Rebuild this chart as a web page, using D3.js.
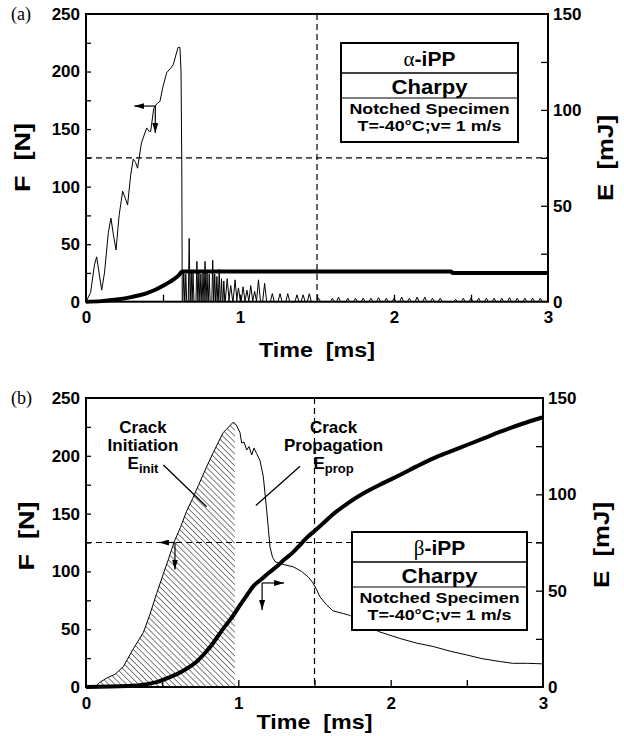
<!DOCTYPE html>
<html><head><meta charset="utf-8">
<script src="https://cdn.jsdelivr.net/npm/d3@7"></script>
<style>body{margin:0;background:#fff}</style>
</head><body>
<svg id="c" width="624" height="736" xmlns="http://www.w3.org/2000/svg"></svg>
<script>
// ---------- data ----------
const timeTicks = [0, 1, 2, 3];
const forceTicks = [0, 50, 100, 150, 200, 250];
const energyTicks = [0, 50, 100, 150];
const timeTickMarks = [0.5, 1, 1.5, 2, 2.5];
const forceTickMarks = [25, 50, 75, 100, 125, 150, 175, 200, 225];
const energyTickMarks = [25, 50, 75, 100, 125];
const refForce = 125;   // dashed horizontal
const refTime = 1.5;    // dashed vertical

// (a) alpha-iPP: force before fracture [t ms, F N]
const forceA_rise = [
  [0,0],[0.03,8],[0.055,32],[0.069,39],[0.085,25],[0.102,10],[0.12,25],[0.145,60],
  [0.162,72.6],[0.178,58],[0.195,45],[0.215,75],[0.238,96],[0.255,90],[0.27,84],
  [0.29,110],[0.307,124],[0.322,121],[0.335,116],[0.36,138],[0.394,151],[0.41,148],
  [0.42,148],[0.44,168],[0.46,172],[0.48,174],[0.5,187],[0.524,199],[0.55,203],
  [0.567,206],[0.585,215],[0.598,221],[0.61,221],[0.617,200],[0.622,120],[0.625,0]
];
// (a) post-fracture oscillation peaks [t ms, peak F N]
const forceA_spikes = [
  [0.635,26],[0.648,24],[0.67,55],[0.683,26],[0.695,25],[0.72,35],[0.733,26],[0.746,24],
  [0.76,26],[0.773,35],[0.786,25],[0.80,24],[0.823,36],[0.836,24],[0.85,22],[0.865,28],
  [0.88,20],[0.895,18],[0.917,20],[0.94,14],[0.968,19],[0.99,12],[1.02,13],[1.045,10],
  [1.07,14],[1.095,9],[1.12,19],[1.16,16],[1.21,7],[1.26,7],[1.31,7],[1.37,6],[1.41,6],
  [1.45,7],[1.51,3],[1.6,3],[1.64,4],[1.7,3],[1.75,3],[1.8,3],[1.85,3],[1.9,3.5],
  [1.95,3],[2.0,3],[2.05,4],[2.1,3],[2.15,4],[2.2,4],[2.25,3],[2.3,3],[2.4,2],[2.45,3],
  [2.5,3],[2.55,3],[2.6,3],[2.65,3],[2.7,3],[2.75,3.5],[2.8,3],[2.85,3],[2.9,3],[2.95,3]
];
// (a) energy [t ms, E mJ]
const energyA = [
  [0,0],[0.1,0.3],[0.2,1.1],[0.3,2.5],[0.4,4.6],[0.45,6.2],[0.5,8.3],[0.55,10.6],
  [0.6,13.6],[0.625,15.7],[2.37,15.7],[2.38,15.0],[3.0,15.0]
];
// (b) beta-iPP force [t ms, F N]
const forceB = [
  [0,0],[0.06,0],[0.09,4],[0.14,8],[0.19,11],[0.245,17.6],[0.31,33],[0.376,47],[0.42,63],
  [0.464,81],[0.508,98],[0.54,110],[0.58,126],[0.62,138],[0.66,152],[0.70,163],[0.74,175],
  [0.79,190],[0.836,203],[0.9,220],[0.923,223],[0.966,229],[0.977,228],[0.989,226],
  [1.011,220],[1.022,211],[1.037,212],[1.055,205],[1.07,208],[1.088,200.7],[1.103,206.7],
  [1.12,202],[1.142,196],[1.164,182],[1.186,153],[1.208,121],[1.225,112],[1.245,108],
  [1.295,106],[1.36,104],[1.415,100],[1.46,95],[1.49,90],[1.515,84],[1.536,78],[1.58,71],
  [1.62,66],[1.69,63.5],[1.73,62],[1.8,57],[1.86,52],[1.92,48],[2.06,42],[2.17,38],
  [2.28,35],[2.39,31],[2.5,27.7],[2.6,24.5],[2.72,22],[2.8,20.5],[2.9,20.5],[3.0,20]
];
const initEnd = 0.977;  // end of crack-initiation (hatched) region
// (b) energy [t ms, E mJ]
const energyB = [
  [0,0],[0.27,0.5],[0.4,1.5],[0.464,2.5],[0.53,4.5],[0.6,6.8],[0.66,9.5],[0.72,12.7],
  [0.78,17.5],[0.836,23],[0.88,28],[0.923,32.6],[0.97,37.5],[1.011,42.5],[1.055,47.5],
  [1.1,52.5],[1.153,56],[1.2,59.3],[1.252,62.5],[1.3,66],[1.36,70],[1.405,73.7],
  [1.45,77.5],[1.5,81],[1.55,84.5],[1.62,89.5],[1.73,96],[1.84,101.3],[1.95,105.8],
  [2.06,110],[2.17,114.5],[2.28,118.7],[2.39,122.2],[2.5,125.6],[2.61,129],[2.72,132.5],
  [2.86,136.5],[3.0,140]
];
const legendA = ["\u03b1", "-iPP", "Charpy", "Notched Specimen", "T=-40\u00b0C;v= 1 m/s"];
const legendB = ["\u03b2", "-iPP", "Charpy", "Notched Specimen", "T=-40\u00b0C;v= 1 m/s"];

// ---------- drawing ----------
const svg = d3.select("#c");
const SANS = "'Liberation Sans', Arial, Helvetica, sans-serif";
const SERIF = "'Liberation Serif', 'Times New Roman', serif";

const defs = svg.append("defs");
defs.append("marker").attr("id","arr").attr("viewBox","0 0 10 6")
  .attr("refX",10).attr("refY",3).attr("markerWidth",10).attr("markerHeight",6)
  .attr("markerUnits","userSpaceOnUse").attr("orient","auto")
  .append("path").attr("d","M0,0L10,3L0,6Z").attr("fill","#000");
const pat = defs.append("pattern").attr("id","hatch").attr("patternUnits","userSpaceOnUse")
  .attr("width",4.2).attr("height",4.2).attr("patternTransform","rotate(-45)");
pat.append("line").attr("x1",0).attr("y1",0).attr("x2",0).attr("y2",4.2)
  .attr("stroke","#000").attr("stroke-width",1);

const fmt = d3.format("d");

function panel(o) {
  const g = svg.append("g");
  const x = d3.scaleLinear([0,3],[o.left,o.right]);
  const yF = d3.scaleLinear([0,250],[o.bottom,o.top]);
  const yE = d3.scaleLinear([0,150],[o.bottom,o.top]);

  if (o.hatch) {
    const pts = o.force.filter(d => d[0] <= o.hatch);
    g.append("path").datum(pts)
      .attr("d", d3.area().x(d=>x(d[0])).y0(yF(0)).y1(d=>yF(d[1])))
      .attr("fill","url(#hatch)").attr("stroke","none");
  }
  // dashed reference lines
  g.append("line").attr("x1",o.left).attr("x2",o.right).attr("y1",yF(refForce)).attr("y2",yF(refForce))
    .attr("stroke","#000").attr("stroke-width",1.2).attr("stroke-dasharray","6,4");
  g.append("line").attr("x1",x(refTime)).attr("x2",x(refTime)).attr("y1",o.top).attr("y2",o.bottom)
    .attr("stroke","#000").attr("stroke-width",1.2).attr("stroke-dasharray","6,4");

  // force curve
  g.append("path").datum(o.force)
    .attr("d", d3.line().x(d=>x(d[0])).y(d=>yF(d[1])))
    .attr("fill","none").attr("stroke","#000").attr("stroke-width",1).attr("stroke-linejoin","round");
  // energy curve
  g.append("path").datum(o.energy)
    .attr("d", d3.line().x(d=>x(d[0])).y(d=>yE(d[1])).curve(d3.curveMonotoneX))
    .attr("fill","none").attr("stroke","#000").attr("stroke-width",4).attr("stroke-linecap","butt");

  // frame
  g.append("rect").attr("x",o.left).attr("y",o.top).attr("width",o.right-o.left).attr("height",o.bottom-o.top)
    .attr("fill","none").attr("stroke","#000").attr("stroke-width",2);

  // inside ticks
  const tl = g.append("g").attr("transform",`translate(${o.left},0)`)
    .call(d3.axisRight(yF).tickValues(forceTickMarks).tickSize(5).tickFormat(""));
  const tr = g.append("g").attr("transform",`translate(${o.right},0)`)
    .call(d3.axisLeft(yE).tickValues(energyTickMarks).tickSize(7).tickFormat(""));
  const tb = g.append("g").attr("transform",`translate(0,${o.bottom})`)
    .call(d3.axisTop(x).tickValues(timeTickMarks).tickSize(7).tickFormat(""));
  [tl,tr,tb].forEach(a => { a.select(".domain").remove(); a.selectAll("line").attr("stroke-width",1.3); });

  // tick labels
  const lab = (sel) => { sel.select(".domain").remove();
    sel.selectAll("text").attr("font-family",SANS).attr("font-weight","bold").attr("font-size",17).attr("fill","#000"); };
  g.append("g").attr("transform",`translate(${o.left},0)`)
    .call(d3.axisLeft(yF).tickValues(forceTicks).tickFormat(fmt).tickSize(0).tickPadding(6)).call(lab);
  g.append("g").attr("transform",`translate(${o.right},0)`)
    .call(d3.axisRight(yE).tickValues(energyTicks).tickFormat(fmt).tickSize(0).tickPadding(5)).call(lab);
  g.append("g").attr("transform",`translate(0,${o.bottom})`)
    .call(d3.axisBottom(x).tickValues(timeTicks).tickFormat(fmt).tickSize(0).tickPadding(o.xpad)).call(lab);

  // axis titles
  g.append("text").attr("transform",`translate(${o.fx},${o.fy}) rotate(-90)`)
    .attr("text-anchor","middle").attr("dominant-baseline","central")
    .attr("font-family",SANS).attr("font-weight","bold").attr("font-size",22)
    .attr("textLength",69).attr("lengthAdjust","spacingAndGlyphs").attr("xml:space","preserve")
    .text("F  [N]");
  g.append("text").attr("transform",`translate(${o.ex},${o.ey}) rotate(-90)`)
    .attr("text-anchor","middle").attr("dominant-baseline","central")
    .attr("font-family",SANS).attr("font-weight","bold").attr("font-size",22)
    .attr("textLength",86).attr("lengthAdjust","spacingAndGlyphs").attr("xml:space","preserve")
    .text("E  [mJ]");
  g.append("text").attr("x",(o.left+o.right)/2).attr("y",o.ty)
    .attr("text-anchor","middle").attr("font-family",SANS).attr("font-weight","bold").attr("font-size",21)
    .attr("textLength",116).attr("lengthAdjust","spacingAndGlyphs").attr("xml:space","preserve")
    .text("Time  [ms]");
  // panel label
  g.append("text").attr("x",11).attr("y",o.top+6).attr("font-family",SERIF).attr("font-size",18)
    .text(o.tag);

  // legend box
  const L = o.legend, b = o.box;
  const lg = g.append("g");
  lg.append("rect").attr("x",b.x).attr("y",b.y).attr("width",b.w).attr("height",b.h)
    .attr("fill","#fff").attr("stroke","#000").attr("stroke-width",2);
  lg.append("line").attr("x1",b.x).attr("x2",b.x+b.w).attr("y1",b.y+30).attr("y2",b.y+30)
    .attr("stroke","#000").attr("stroke-width",1.6);
  lg.append("line").attr("x1",b.x).attr("x2",b.x+b.w).attr("y1",b.y+55).attr("y2",b.y+55)
    .attr("stroke","#000").attr("stroke-width",1);
  const cx = b.x + b.w/2;
  const t1 = lg.append("text").attr("x",cx).attr("y",b.y+23).attr("text-anchor","middle").attr("font-size",21);
  t1.append("tspan").attr("font-family",SERIF).text(L[0]);
  t1.append("tspan").attr("font-family",SANS).attr("font-weight","bold").text(L[1]);
  lg.append("text").attr("x",cx).attr("y",b.y+51).attr("text-anchor","middle")
    .attr("font-family",SANS).attr("font-weight","bold").attr("font-size",21)
    .attr("textLength",76).attr("lengthAdjust","spacingAndGlyphs").text(L[2]);
  lg.append("text").attr("x",cx).attr("y",b.y+71).attr("text-anchor","middle")
    .attr("font-family",SANS).attr("font-weight","bold").attr("font-size",15.5)
    .attr("textLength",160).attr("lengthAdjust","spacingAndGlyphs").text(L[3]);
  lg.append("text").attr("x",cx).attr("y",b.y+88).attr("text-anchor","middle")
    .attr("font-family",SANS).attr("font-size",15.5).attr("font-weight","bold")
    .attr("textLength",144).attr("lengthAdjust","spacingAndGlyphs").text(L[4]);

  // arrows
  o.arrows.forEach(a => {
    const px = x(a.t), py = a.axis === "E" ? yE(a.v) : yF(a.v);
    g.append("line").attr("x1",px).attr("y1",py).attr("x2",px + a.dx).attr("y2",py + a.dy)
      .attr("stroke","#000").attr("stroke-width",1.2).attr("marker-end","url(#arr)");
  });
  return {g, x, yF, yE};
}

// (a) force: rise plus spike oscillations
const forceA = forceA_rise.slice();
forceA_spikes.forEach(([t,p]) => {
  const hw = t < 0.9 ? 0.006 : 0.013;
  forceA.push([t-hw,0],[t,p],[t+hw,0]);
});
forceA.push([3,0]);

panel({
  left:86, right:548, top:14, bottom:301.7, xpad:9, ty:357, tag:"(a)",
  fx:22, fy:157.5, ex:605, ey:158,
  force: forceA, energy: energyA, legend: legendA,
  box:{x:341, y:43, w:177, h:99},
  arrows:[{t:0.45, v:170, axis:"F", dx:-21, dy:0},{t:0.45, v:170, axis:"F", dx:0, dy:27}]
});

const pb = panel({
  left:86, right:543, top:398, bottom:687, xpad:10, ty:729, tag:"(b)",
  fx:26, fy:536, ex:601, ey:545,
  force: forceB, energy: energyB, legend: legendB, hatch: initEnd,
  box:{x:352, y:532, w:175, h:98},
  arrows:[{t:0.584, v:125, axis:"F", dx:-16, dy:0},{t:0.584, v:125, axis:"F", dx:0, dy:27},
          {t:1.156, v:54, axis:"E", dx:22, dy:0},{t:1.156, v:54, axis:"E", dx:0, dy:27}]
});

// crack annotations (panel b)
const ann = pb.g.append("g").attr("font-family",SANS).attr("font-weight","bold").attr("font-size",17)
  .attr("text-anchor","middle");
function lbl(xc, y, s, sub) {
  const t = ann.append("text").attr("x",xc).attr("y",y);
  t.append("tspan").text(s);
  if (sub) t.append("tspan").attr("font-size",13).attr("dy",4).text(sub);
}
const xI = pb.x(0.374), xP = pb.x(1.625);
lbl(xI, 433, "Crack"); lbl(xI, 451, "Initiation"); lbl(xI, 469, "E", "init");
lbl(xP, 433, "Crack"); lbl(xP, 451, "Propagation"); lbl(xP, 469, "E", "prop");
pb.g.append("line").attr("x1",pb.x(0.508)).attr("y1",pb.yF(192)).attr("x2",pb.x(0.792)).attr("y2",pb.yF(156))
  .attr("stroke","#000").attr("stroke-width",1.3);
pb.g.append("line").attr("x1",pb.x(1.405)).attr("y1",pb.yF(191)).attr("x2",pb.x(1.115)).attr("y2",pb.yF(157))
  .attr("stroke","#000").attr("stroke-width",1.3);
</script>
</body></html>
